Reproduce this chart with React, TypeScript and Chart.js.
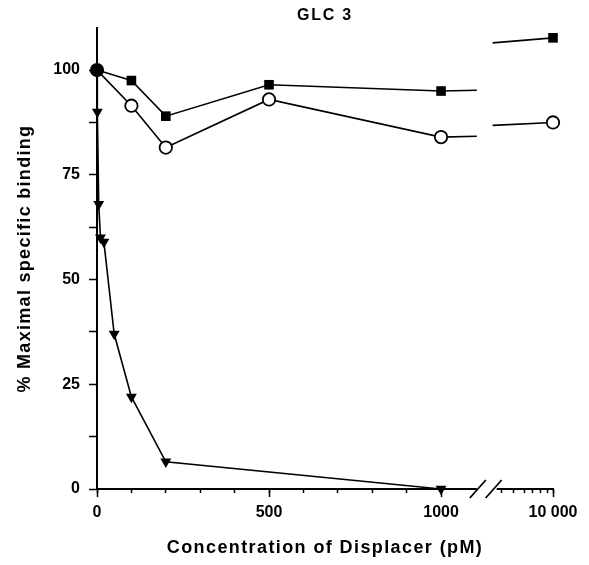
import React, { useEffect, useRef } from 'react';
import { Chart, registerables } from 'chart.js';

Chart.register(...registerables);

const TITLE = 'GLC 3';
const X_TITLE = 'Concentration of Displacer (pM)';
const Y_TITLE = '% Maximal specific binding';

// concentrations (pM) for the square and circle series
const concentrations = [0, 100, 200, 500, 1000, 10000];
const squareValues = [100, 97.5, 89, 96.5, 95, 107.7];
const circleValues = [100, 91.5, 81.5, 93, 84, 87.5];

// triangle series
const triangleConcentrations = [0, 1, 5, 10, 20, 50, 100, 200, 1000];
const triangleValues = [100, 90, 68, 60, 59, 37, 22, 6.5, 0];

// line heights where each line meets the axis break (left side, right side)
const squareBreakValues = [95.2, 106.5];
const circleBreakValues = [84.2, 86.8];

// ticks
const yTickValues = [0, 12.5, 25, 37.5, 50, 62.5, 75, 87.5, 100];
const yTickLabels = ['0', '', '25', '', '50', '', '75', '', '100'];
const xLinearTicks = [0, 100, 200, 300, 400, 500, 600, 700, 800, 900, 1000];
const xLogTicks = [4000, 5000, 6000, 7000, 8000, 9000, 10000];
const xMajorTicks = [0, 500, 1000, 10000];
const xTickLabelMap: Record<number, string> = { 0: '0', 500: '500', 1000: '1000', 10000: '10 000' };

// broken axis mapping: linear up to the break, log decade after it
const LOG_ORIGIN = 946.7;
const LOG_DECADE = 378.7;
const BREAK_L = 1104;
const BREAK_R = 1150;
const mapX = (c: number) => (c <= 2000 ? c : LOG_ORIGIN + LOG_DECADE * Math.log10(c / 1000));

const xTickConcs = [...xLinearTicks, ...xLogTicks];

function brokenSeries(values: number[], breakVals: number[]) {
  const pts: any[] = [];
  concentrations.forEach((c, i) => {
    if (c <= 1000) pts.push({ x: mapX(c), y: values[i], m: true });
  });
  pts.push({ x: BREAK_L, y: breakVals[0], m: false });
  pts.push({ x: (BREAK_L + BREAK_R) / 2, y: null, m: false });
  pts.push({ x: BREAK_R, y: breakVals[1], m: false });
  concentrations.forEach((c, i) => {
    if (c > 1000) pts.push({ x: mapX(c), y: values[i], m: true });
  });
  return pts;
}

const FONT = '"Liberation Sans", Arial, Helvetica, sans-serif';

function withSpacing(obj: any, method: string, spacing: string) {
  if (!obj || obj['__sp_' + method]) return;
  const orig = obj[method];
  obj[method] = function (...args: any[]) {
    const ctx = this.ctx;
    const prev = ctx.letterSpacing;
    ctx.letterSpacing = spacing;
    const r = orig.apply(this, args);
    ctx.letterSpacing = prev || '0px';
    return r;
  };
  obj['__sp_' + method] = true;
}

export default function App() {
  const ref = useRef<HTMLCanvasElement>(null);

  useEffect(() => {
    if (!ref.current) return;

    const spacing = {
      id: 'spacing',
      beforeDraw(chart: any) {
        withSpacing(chart.scales.x, 'drawTitle', '1.4px');
        withSpacing(chart.scales.y, 'drawTitle', '1.3px');
        withSpacing(chart.titleBlock, 'draw', '1.8px');
      },
    };

    const axisBreak = {
      id: 'axisBreak',
      afterDraw(chart: any) {
        const ctx = chart.ctx;
        const xs = chart.scales.x;
        const y0 = chart.chartArea.bottom;
        const xl = xs.getPixelForValue(BREAK_L);
        const xr = xs.getPixelForValue(BREAK_R);
        ctx.save();
        // longer major ticks
        ctx.strokeStyle = '#000';
        ctx.lineWidth = 1.5;
        ctx.beginPath();
        for (const c of xMajorTicks) {
          const px = Math.round(xs.getPixelForValue(mapX(c))) + 0.5;
          ctx.moveTo(px, y0);
          ctx.lineTo(px, y0 + 8);
        }
        ctx.stroke();
        // break in the axis line
        ctx.fillStyle = '#fff';
        ctx.fillRect(xl, y0 - 2, xr - xl + 4, 4.5);
        ctx.lineWidth = 1.8;
        ctx.beginPath();
        for (const cx of [xl + 1, xr + 1]) {
          ctx.moveTo(cx - 8, y0 + 9);
          ctx.lineTo(cx + 8, y0 - 9);
        }
        ctx.stroke();
        ctx.restore();
      },
    };

    const chart = new Chart(ref.current, {
      type: 'line',
      data: {
        datasets: [
          {
            label: 'circles',
            data: brokenSeries(circleValues, circleBreakValues),
            borderColor: '#000',
            borderWidth: 1.6,
            pointStyle: 'circle',
            pointRadius: (c: any) => (c.raw && c.raw.m ? 6.2 : 0),
            pointBorderWidth: 1.8,
            pointBorderColor: '#000',
            pointBackgroundColor: (c: any) => (c.dataIndex === 0 ? '#000' : '#fff'),
            clip: false,
            spanGaps: false,
          } as any,
          {
            label: 'squares',
            data: brokenSeries(squareValues, squareBreakValues),
            borderColor: '#000',
            borderWidth: 1.6,
            pointStyle: 'rect',
            pointRadius: (c: any) => (c.raw && c.raw.m ? 6.8 : 0),
            pointBorderWidth: 0,
            pointBackgroundColor: '#000',
            clip: false,
            spanGaps: false,
          } as any,
          {
            label: 'triangles',
            data: triangleConcentrations.map((c, i) => ({ x: mapX(c), y: triangleValues[i] })),
            borderColor: '#000',
            borderWidth: 1.6,
            pointStyle: 'triangle',
            pointRotation: 180,
            pointRadius: 6.3,
            pointBorderWidth: 0,
            pointBackgroundColor: '#000',
            clip: false,
          } as any,
        ],
      },
      options: {
        animation: false,
        responsive: false,
        devicePixelRatio: 1,
        layout: { padding: { left: 0, right: 36, top: 0, bottom: 0 } },
        elements: { line: { tension: 0 } },
        plugins: {
          legend: { display: false },
          tooltip: { enabled: false },
          title: {
            display: true,
            text: TITLE,
            fullSize: false,
            color: '#000',
            font: { family: FONT, size: 16, weight: 'bold' },
            padding: { top: 6, bottom: 3 },
          } as any,
        },
        scales: {
          x: {
            type: 'linear',
            min: 0,
            max: mapX(10000),
            afterBuildTicks: (s: any) => {
              s.ticks = xTickConcs.map((c) => ({ value: mapX(c) }));
            },
            afterFit: (s: any) => {
              s.height = 76;
            },
            ticks: {
              autoSkip: false,
              maxRotation: 0,
              minRotation: 0,
              padding: 10,
              color: '#000',
              font: { family: FONT, size: 16, weight: 'bold' },
              callback: (_v: any, i: number) => xTickLabelMap[xTickConcs[i]] ?? '',
            },
            grid: {
              drawOnChartArea: false,
              drawTicks: true,
              tickLength: 4,
              tickWidth: 1.5,
              tickColor: '#000',
            },
            border: { display: true, color: '#000', width: 2 },
            title: {
              display: true,
              text: X_TITLE,
              color: '#000',
              font: { family: FONT, size: 18, weight: 'bold' },
              padding: { top: 0, bottom: 6 },
            },
          } as any,
          y: {
            type: 'linear',
            min: 0,
            max: 110,
            afterBuildTicks: (s: any) => {
              s.ticks = yTickValues.map((v) => ({ value: v }));
            },
            afterFit: (s: any) => {
              s.width = 97;
            },
            ticks: {
              padding: 9,
              color: '#000',
              font: { family: FONT, size: 16, weight: 'bold' },
              callback: (_v: any, i: number) => yTickLabels[i] ?? '',
            },
            grid: {
              drawOnChartArea: false,
              drawTicks: true,
              tickLength: 8,
              tickWidth: 1.5,
              tickColor: '#000',
            },
            border: { display: true, color: '#000', width: 2 },
            title: {
              display: true,
              text: Y_TITLE,
              color: '#000',
              font: { family: FONT, size: 18, weight: 'bold' },
              padding: { top: 14, bottom: 0 },
            },
          } as any,
        },
      },
      plugins: [spacing, axisBreak],
    } as any);

    return () => chart.destroy();
  }, []);

  return (
    <div style={{ position: 'fixed', left: 0, top: 0, width: 589, height: 565, background: '#fff' }}>
      <canvas ref={ref} width={589} height={565} style={{ display: 'block', width: 589, height: 565 }} />
    </div>
  );
}
